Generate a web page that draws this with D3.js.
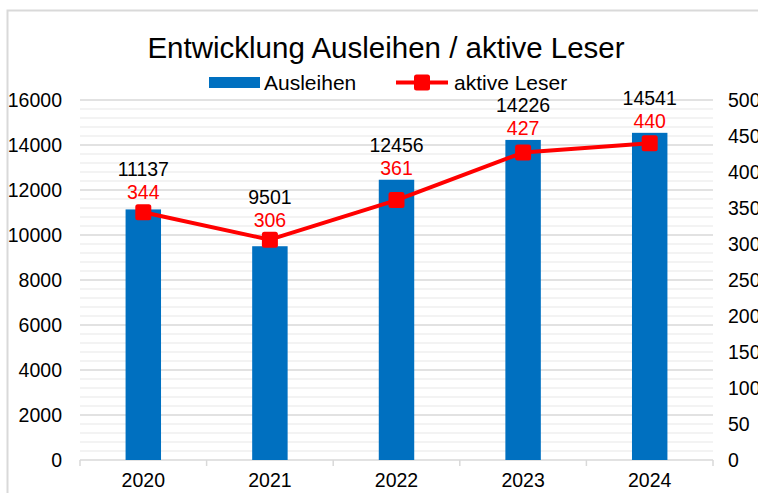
<!DOCTYPE html>
<html>
<head>
<meta charset="utf-8">
<script src="https://cdn.jsdelivr.net/npm/d3@7"></script>
<style>
  body { margin: 0; background: #fff; }
  svg { display: block; font-family: "Liberation Sans", Arial, sans-serif; }
</style>
</head>
<body>
<svg id="chart" width="758" height="493"></svg>
<script>
// Data
var years = ["2020", "2021", "2022", "2023", "2024"];
var ausleihen = [11137, 9501, 12456, 14226, 14541];
var aktiveLeser = [344, 306, 361, 427, 440];
var leftTicks = [0, 2000, 4000, 6000, 8000, 10000, 12000, 14000, 16000];
var rightTicks = [0, 50, 100, 150, 200, 250, 300, 350, 400, 450, 500];

var barColor = "#0070c0";
var lineColor = "#ff0000";
var gridMajor = "#d9d9d9";
var gridMinor = "#efefef";
var fontSize = "19.5px";

var svg = d3.select("#chart");
var plotLeft = 80, plotRight = 713, plotTop = 100, plotBottom = 460;

// outer chart border
svg.append("rect")
	.attr("x", 7.5).attr("y", 10.5)
	.attr("width", 800).attr("height", 600)
	.attr("fill", "none")
	.attr("stroke", gridMajor)
	.attr("stroke-width", 2);

var x = d3.scaleBand().domain(years).range([plotLeft, plotRight]);
var yLeft = d3.scaleLinear().domain([0, 16000]).range([plotBottom, plotTop]);
var yRight = d3.scaleLinear().domain([0, 500]).range([plotBottom, plotTop]);

// minor gridlines every 400, major every 2000
var gridG = svg.append("g");
gridG.selectAll("line.minor")
	.data(d3.range(0, 16001, 400).filter(function(d) { return d % 2000 != 0; }))
	.enter().append("line")
	.attr("class", "minor")
	.attr("x1", plotLeft).attr("x2", plotRight)
	.attr("y1", function(d) { return yLeft(d); })
	.attr("y2", function(d) { return yLeft(d); })
	.attr("stroke", gridMinor)
	.attr("stroke-width", 1.5);
gridG.selectAll("line.major")
	.data(leftTicks)
	.enter().append("line")
	.attr("class", "major")
	.attr("x1", plotLeft).attr("x2", plotRight)
	.attr("y1", function(d) { return yLeft(d); })
	.attr("y2", function(d) { return yLeft(d); })
	.attr("stroke", gridMajor)
	.attr("stroke-width", 1.5);

// category boundary ticks on the x axis
var bounds = years.map(function(d) { return x(d); }).concat([plotRight]);
gridG.selectAll("line.xtick")
	.data(bounds)
	.enter().append("line")
	.attr("x1", function(d) { return d; })
	.attr("x2", function(d) { return d; })
	.attr("y1", plotBottom).attr("y2", plotBottom + 6)
	.attr("stroke", gridMajor)
	.attr("stroke-width", 1.5);

// axes
var leftAxis = svg.append("g")
	.attr("transform", "translate(" + plotLeft + ",0)")
	.call(d3.axisLeft(yLeft).tickValues(leftTicks).tickSize(0).tickPadding(18).tickFormat(d3.format("d")));
var rightAxis = svg.append("g")
	.attr("transform", "translate(" + plotRight + ",0)")
	.call(d3.axisRight(yRight).tickValues(rightTicks).tickSize(0).tickPadding(15).tickFormat(d3.format("d")));
var bottomAxis = svg.append("g")
	.attr("transform", "translate(0," + plotBottom + ")")
	.call(d3.axisBottom(x).tickSize(0).tickPadding(13));
[leftAxis, rightAxis, bottomAxis].forEach(function(g) {
	g.select(".domain").remove();
	g.selectAll("text")
		.attr("fill", "#000")
		.style("font-size", fontSize)
		.style("font-family", "Liberation Sans, Arial, sans-serif");
});

// bars
var barW = x.bandwidth() * 0.28;
svg.append("g").selectAll("rect")
	.data(ausleihen)
	.enter().append("rect")
	.attr("x", function(d, i) { return x(years[i]) + x.bandwidth() / 2 - barW / 2; })
	.attr("y", function(d) { return yLeft(d); })
	.attr("width", barW)
	.attr("height", function(d) { return plotBottom - yLeft(d); })
	.attr("fill", barColor);

// line + markers
var cx = function(d, i) { return x(years[i]) + x.bandwidth() / 2; };
var line = d3.line()
	.x(cx)
	.y(function(d) { return yRight(d); });
svg.append("path")
	.datum(aktiveLeser)
	.attr("d", line)
	.attr("fill", "none")
	.attr("stroke", lineColor)
	.attr("stroke-width", 4)
	.attr("stroke-linejoin", "round");
var markerSize = 16;
svg.append("g").selectAll("rect")
	.data(aktiveLeser)
	.enter().append("rect")
	.attr("x", function(d, i) { return cx(d, i) - markerSize / 2; })
	.attr("y", function(d) { return yRight(d) - markerSize / 2; })
	.attr("width", markerSize).attr("height", markerSize)
	.attr("rx", 2.5)
	.attr("fill", lineColor);

// data labels: red above marker/bar, black above that
var labelG = svg.append("g").style("font-size", fontSize).attr("text-anchor", "middle");
years.forEach(function(yr, i) {
	var redY = Math.min(yRight(aktiveLeser[i]) - 13, yLeft(ausleihen[i]) - 5);
	labelG.append("text")
		.attr("x", cx(null, i)).attr("y", redY)
		.attr("fill", lineColor)
		.text(aktiveLeser[i]);
	labelG.append("text")
		.attr("x", cx(null, i)).attr("y", redY - 23)
		.attr("fill", "#000")
		.text(ausleihen[i]);
});

// title
svg.append("text")
	.attr("x", 386).attr("y", 58)
	.attr("text-anchor", "middle")
	.style("font-size", "29.5px")
	.text("Entwicklung Ausleihen / aktive Leser");

// legend
var legend = svg.append("g").style("font-size", "21px");
legend.append("rect")
	.attr("x", 209).attr("y", 77)
	.attr("width", 51).attr("height", 11)
	.attr("fill", barColor);
legend.append("text")
	.attr("x", 264).attr("y", 89.5)
	.text("Ausleihen");
legend.append("line")
	.attr("x1", 396).attr("x2", 448)
	.attr("y1", 82.5).attr("y2", 82.5)
	.attr("stroke", lineColor)
	.attr("stroke-width", 4);
legend.append("rect")
	.attr("x", 414).attr("y", 74.5)
	.attr("width", markerSize).attr("height", markerSize)
	.attr("rx", 2.5)
	.attr("fill", lineColor);
legend.append("text")
	.attr("x", 454).attr("y", 89.5)
	.text("aktive Leser");
</script>
</body>
</html>
